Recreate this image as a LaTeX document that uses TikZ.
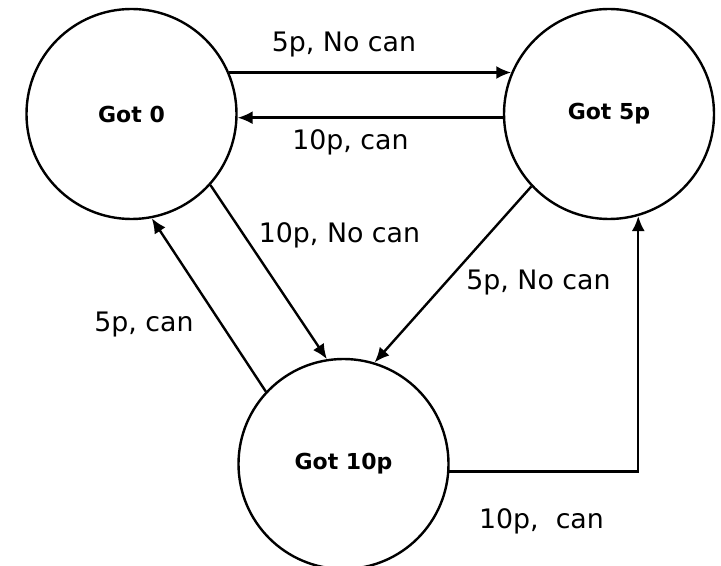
\documentclass[tikz,border=0pt]{standalone}
\usepackage{fontspec}
\setmainfont{DejaVu Sans}
\usetikzlibrary{arrows.meta}
\newcommand\rr{105}

\begin{document}
\begin{tikzpicture}[
      x=0.5pt, y=-0.5pt,
      state/.style = {
        draw=black,
        circle,
        line width=1.2pt,
        inner sep=0pt,
        minimum size = \rr pt,
        font=\bfseries\fontsize{11}{13}\selectfont,
      },
      arr/.style = {
        draw=black,
        line width=1.2pt,
        -{Latex[length=7.5pt,width=6.5pt]},
      },
      lbl/.style = {
        anchor=base,
        inner sep=0pt,
        font=\fontsize{13.4}{15}\selectfont,
      },
    ]
      \useasboundingbox (0,0) rectangle (721,566);
      \node[state] (g0) at (131.5, 114) {Got 0};
      \node[state] (g5) at (609, 114) {Got 5p};
      \node[state] (g10) at (343.5, 464) {Got 10p};
      \node[lbl] (l1) at (344, 52) {5p, No can};
      \node[lbl] (l2) at (350.5, 150) {10p, can};
      \node[lbl] (l3) at (339.5, 243) {10p, No can};
      \node[lbl] (l4) at (144, 331) {5p, can};
      \node[lbl] (l5) at (538.5, 290) {5p, No can};
      \node[lbl] (l6) at (541.5, 528) {10p,\ \ can};
      \draw[arr] (g0.23) -- (g5.157);
      \draw[arr] (g5.182) -- (g0.-2);
      \draw[arr] (g0.-42) -- (g10.99.5);
      \draw[arr] (g10.137.5) -- (g0.-79);
      \draw[arr] (g5.223.5) -- (g10.73);
      \draw[arr] (g10.-4) -| (g5.-74.5);

    \end{tikzpicture}
\end{document}
